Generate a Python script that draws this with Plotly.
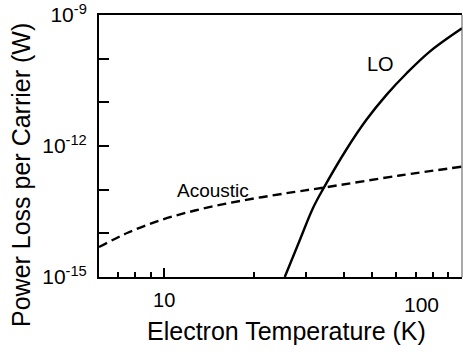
import plotly.graph_objects as go

# Electron temperature (K) and power loss per carrier (W)
t_acoustic = [6.04, 7.57, 9.80, 12.68, 16.40, 21.23, 27.46, 34.18, 61.7, 100.0]
p_acoustic = [4.86e-15, 1.045e-14, 2.04e-14, 3.33e-14, 4.90e-14, 6.72e-14,
              8.89e-14, 1.11e-13, 2.11e-13, 3.36e-13]

t_lo = [25.4, 28.54, 31.6, 34.18, 40.9, 47.75, 55.76, 65.06, 77.92, 100.0]
p_lo = [1.0e-15, 7.05e-15, 3.80e-14, 1.04e-13, 8.32e-13, 3.98e-12,
        1.48e-11, 4.57e-11, 1.45e-10, 4.95e-10]

x_major = [10, 100]
x_major_text = ["10", ""]
x_minor = [7, 8, 9, 20, 30, 40, 50, 60, 70, 80, 90]
y_major = [1e-15, 1e-12, 1e-9]
y_major_text = ["10<sup>-15</sup>", "10<sup>-12</sup>", "10<sup>-9</sup>"]
y_minor = [1e-14, 1e-13, 1e-11, 1e-10]

FONT = "Arial, Liberation Sans, Helvetica, sans-serif"

fig = go.Figure()
fig.add_trace(go.Scatter(
    x=t_acoustic, y=p_acoustic, mode="lines",
    line=dict(color="black", width=2.4, dash="9px,5px", shape="spline", smoothing=1.0),
    showlegend=False, cliponaxis=True))
fig.add_trace(go.Scatter(
    x=t_lo, y=p_lo, mode="lines",
    line=dict(color="black", width=2.4, shape="spline", smoothing=1.0),
    showlegend=False, cliponaxis=True))

fig.update_layout(
    width=463, height=352,
    margin=dict(l=99, r=1, t=15, b=75),
    paper_bgcolor="white", plot_bgcolor="white",
    font=dict(family=FONT, color="black"),
    xaxis=dict(
        type="log", range=[0.781, 2.0],
        showgrid=False, zeroline=False,
        showline=True, linecolor="black", linewidth=2, mirror=True,
        tickmode="array", tickvals=x_major, ticktext=x_major_text,
        ticks="inside", ticklen=9, tickwidth=1.5, tickcolor="black",
        tickfont=dict(size=20, family=FONT), ticklabelstandoff=4,
        minor=dict(tickmode="array", tickvals=x_minor, ticks="inside",
                   ticklen=5, tickwidth=1.5, tickcolor="black", showgrid=False),
    ),
    yaxis=dict(
        type="log", range=[-15, -9],
        showgrid=False, zeroline=False,
        showline=True, linecolor="black", linewidth=2, mirror=False,
        tickmode="array", tickvals=y_major, ticktext=y_major_text,
        ticks="inside", ticklen=10, tickwidth=1.5, tickcolor="black",
        tickfont=dict(size=21, family=FONT), ticklabelstandoff=6,
        minor=dict(tickmode="array", tickvals=y_minor, ticks="inside",
                   ticklen=10, tickwidth=1.5, tickcolor="black", showgrid=False),
    ),
)

# thin right border of the plot frame
fig.add_shape(type="line", xref="paper", yref="paper", x0=1, x1=1, y0=0, y1=1,
              line=dict(color="#555555", width=1))

annotations = [
    dict(text="100", x=421, y=304, size=21),
    dict(text="Electron Temperature (K)", x=286, y=331, size=25),
    dict(text="LO", x=380, y=64, size=20),
    dict(text="Acoustic", x=213, y=190, size=19),
]
for a in annotations:
    fig.add_annotation(
        text=a["text"], xref="paper", yref="paper",
        x=(a["x"] - 99) / (462 - 99), y=(277 - a["y"]) / (277 - 15),
        xanchor="center", yanchor="middle", showarrow=False,
        font=dict(size=a["size"], family=FONT, color="black"))

fig.add_annotation(
    text="Power Loss per Carrier (W)", xref="paper", yref="paper",
    x=(21 - 99) / (462 - 99), y=(277 - 175) / (277 - 15),
    xanchor="center", yanchor="middle", textangle=-90, showarrow=False,
    font=dict(size=25, family=FONT, color="black"))

fig.write_html("out.html")
